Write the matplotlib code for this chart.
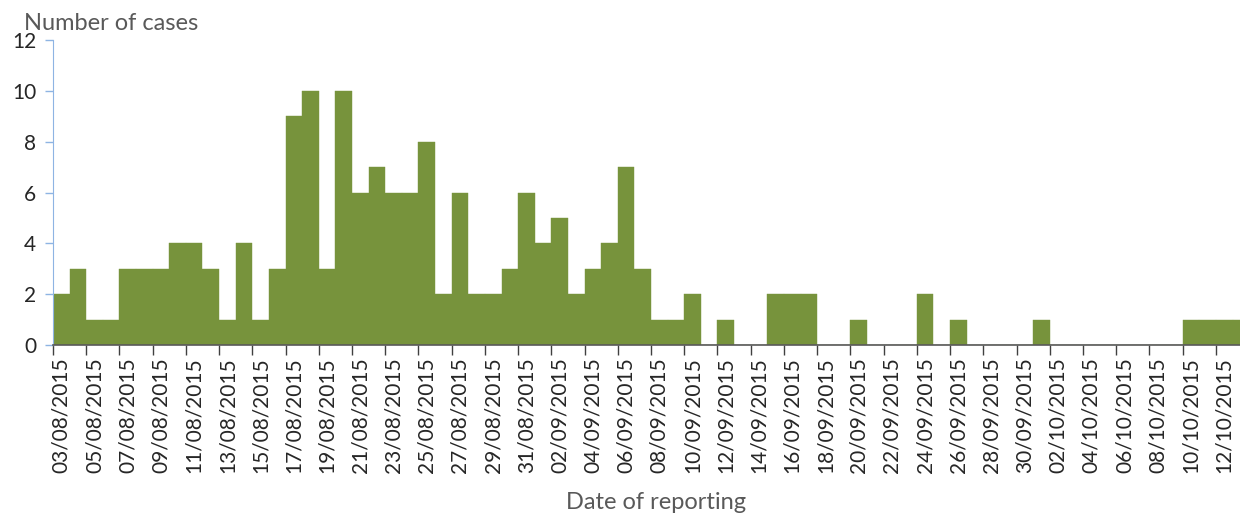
import pandas as pd
import matplotlib
matplotlib.use('Agg')
import matplotlib.pyplot as plt
from matplotlib.ticker import FixedLocator

plt.rcParams['font.family'] = ['Lato', 'DejaVu Sans']

# daily reported cases, 03/08/2015 .. 13/10/2015
dates = pd.date_range('2015-08-03', '2015-10-13', freq='D')
cases = [2, 3, 1, 1, 3, 3, 3, 4, 4, 3, 1, 4, 1, 3, 9, 10, 3, 10, 6, 7,
         6, 6, 8, 2, 6, 2, 2, 3, 6, 4, 5, 2, 3, 4, 7, 3, 1, 1, 2, 0,
         1, 0, 0, 2, 2, 2, 0, 0, 1, 0, 0, 0, 2, 0, 1, 0, 0, 0, 0, 1,
         0, 0, 0, 0, 0, 0, 0, 0, 1, 1, 1, 1]
tick_labels = [d.strftime('%d/%m/%Y') for d in dates[::2]]

bar_color = '#77933C'
text_gray = '#595959'

fig = plt.figure(figsize=(12.4, 5.13), dpi=100)
ax = fig.add_axes([0.0427, 0.3275, 0.9573, 0.5945])

x = list(range(len(cases)))
ax.bar(x, cases, width=1.0, color=bar_color, edgecolor=bar_color, linewidth=0.3)

ax.set_xlim(-0.5, 70.95)
ax.set_ylim(0, 12)
ax.set_yticks(range(0, 13, 2))

ax.xaxis.set_major_locator(FixedLocator(x[::2]))
ax.set_xticklabels(tick_labels, rotation=90)
ax.xaxis.set_minor_locator(FixedLocator([i - 0.5 for i in x[::2]]))
ax.tick_params(axis='x', which='major', length=0, pad=9, labelsize=15, labelcolor='#262626')
ax.tick_params(axis='x', which='minor', length=7, width=1, color='#404040')
ax.tick_params(axis='y', length=6, width=1, color='#8EB4E3', labelsize=15,
               labelcolor='#262626', pad=6)

for side in ['top', 'right']:
    ax.spines[side].set_visible(False)
ax.spines['left'].set_color('#8EB4E3')
ax.spines['bottom'].set_color('#595959')
ax.spines['bottom'].set_linewidth(1.2)

fig.text(0.019, 0.955, 'Number of cases', fontsize=17, color=text_gray, va='center')
fig.text(0.529, 0.021, 'Date of reporting', fontsize=17, color=text_gray, ha='center', va='center')

fig.savefig('out.png', dpi=100)
